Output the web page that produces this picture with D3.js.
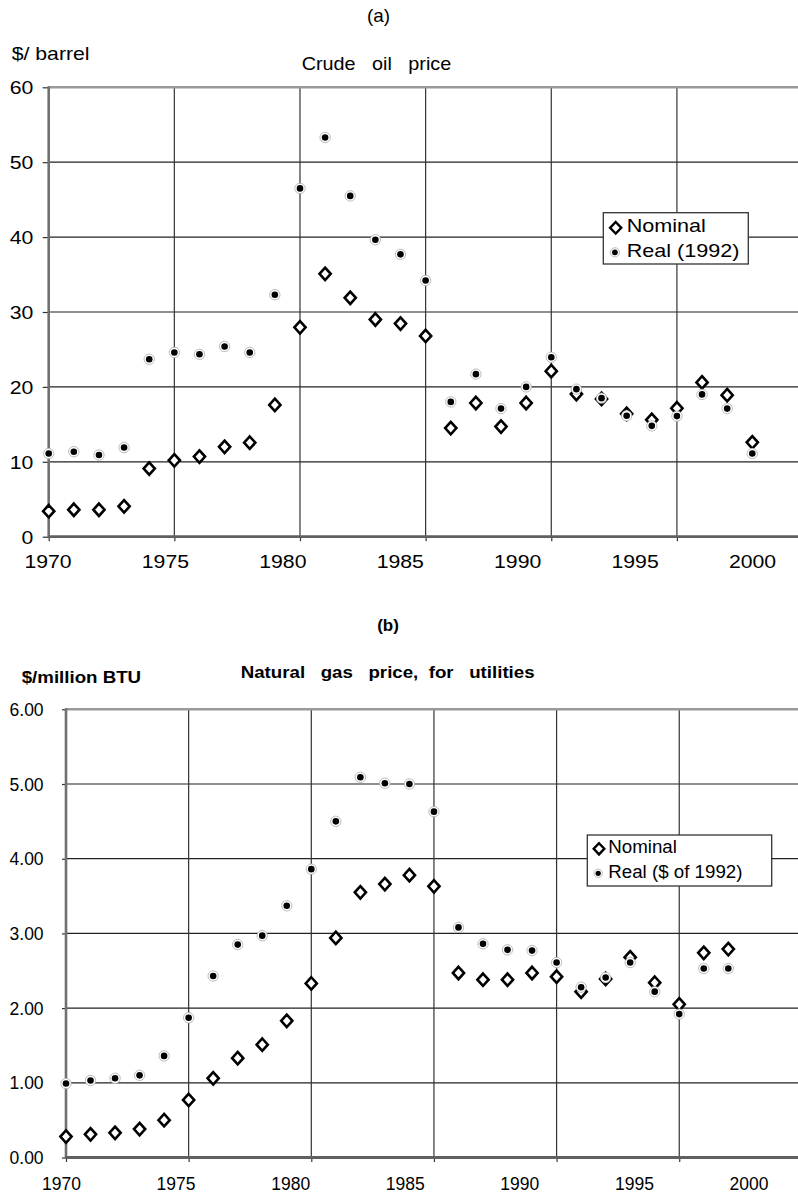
<!DOCTYPE html>
<html>
<head>
<meta charset="utf-8">
<script src="https://cdn.jsdelivr.net/npm/d3@7"></script>
<style>
  body { margin: 0; background: #fff; }
  text { font-family: "Liberation Sans", Arial, Helvetica, sans-serif; white-space: pre; fill: #000; }
</style>
</head>
<body>
<svg id="chart" width="798" height="1194"></svg>
<script>
// ---- Crude oil price ($/barrel) ----
const oilYears = [1970, 1971, 1972, 1973, 1974, 1975, 1976, 1977, 1978, 1979,
                  1980, 1981, 1982, 1983, 1984, 1985, 1986, 1987, 1988, 1989,
                  1990, 1991, 1992, 1993, 1994, 1995, 1996, 1997, 1998];
const oilNominal = [3.4, 3.6, 3.6, 4.05, 9.1, 10.2, 10.7, 12.0, 12.55, 17.6,
                    27.95, 35.1, 31.9, 29.0, 28.45, 26.8, 14.5, 17.85, 14.7, 17.85,
                    22.1, 19.05, 18.4, 16.4, 15.6, 17.15, 20.6, 18.9, 12.6];
const oilReal = [11.1, 11.35, 10.9, 11.9, 23.7, 24.6, 24.35, 25.4, 24.6, 32.3,
                 46.5, 53.3, 45.5, 39.65, 37.7, 34.2, 18.0, 21.7, 17.1, 20.0,
                 23.95, 19.7, 18.5, 16.15, 14.8, 16.1, 19.0, 17.1, 11.1];
const oilYTicks = [0, 10, 20, 30, 40, 50, 60];

// ---- Natural gas price for utilities ($/million BTU) ----
const gasYears = [1970, 1971, 1972, 1973, 1974, 1975, 1976, 1977, 1978, 1979,
                  1980, 1981, 1982, 1983, 1984, 1985, 1986, 1987, 1988, 1989,
                  1990, 1991, 1992, 1993, 1994, 1995, 1996, 1997];
const gasNominal = [0.28, 0.31, 0.33, 0.38, 0.50, 0.77, 1.06, 1.33, 1.51, 1.83,
                    2.33, 2.94, 3.55, 3.66, 3.78, 3.63, 2.47, 2.38, 2.38, 2.47,
                    2.42, 2.22, 2.39, 2.68, 2.34, 2.05, 2.74, 2.79];
const gasReal = [0.99, 1.03, 1.06, 1.10, 1.36, 1.87, 2.43, 2.85, 2.97, 3.37,
                 3.86, 4.50, 5.09, 5.01, 5.00, 4.63, 3.08, 2.86, 2.78, 2.77,
                 2.61, 2.28, 2.41, 2.61, 2.22, 1.92, 2.53, 2.53];
const gasYTicks = [0, 1, 2, 3, 4, 5, 6];

// shared axis annotations
const gridYears = [1970, 1975, 1980, 1985, 1990, 1995];
const yearTickLabels = [1970, 1975, 1980, 1985, 1990, 1995, 2000];

const W = 798;
const svg = d3.select("#chart");
svg.append("rect").attr("width", W).attr("height", 1194).attr("fill", "#fff");

const diamondPath = s => `M0,${-s.h} L${s.w},0 L0,${s.h} L${-s.w},0 Z`;

// text with horizontal stretch
function label(g, x, y, str, o) {
  return g.append("text")
    .attr("transform", `translate(${x},${y}) scale(${o.sx || 1},1)`)
    .attr("text-anchor", o.anchor || "start")
    .attr("font-size", o.size)
    .attr("font-weight", o.weight || "normal")
    .text(str);
}

function drawDiamond(g, cx, cy, w, h, sw) {
  g.append("path").attr("transform", `translate(${cx},${cy})`)
    .attr("d", diamondPath({ w, h }))
    .attr("fill", "#fff").attr("stroke", "#000")
    .attr("stroke-width", sw).attr("stroke-linejoin", "miter");
}
function drawDot(g, cx, cy, rr, r) {
  g.append("circle").attr("cx", cx).attr("cy", cy).attr("r", rr)
    .attr("fill", "#fff").attr("stroke", "#aaa").attr("stroke-width", 0.8);
  g.append("circle").attr("cx", cx).attr("cy", cy).attr("r", r).attr("fill", "#000");
}

function panel(cfg) {
  const g = svg.append("g");
  const x = d3.scaleLinear().domain(d3.extent(cfg.years)).range(cfg.xRange);
  const xLab = d3.scaleLinear().domain([1970, 2000]).range(cfg.labRange);
  const y = d3.scaleLinear().domain([0, d3.max(cfg.yTicks)]).range(cfg.yRange);
  const left = cfg.xRange[0];
  const [bottom, top] = cfg.yRange;

  // horizontal grid
  g.append("g").selectAll("line")
    .data(cfg.yTicks.filter(v => v > 0 && v < d3.max(cfg.yTicks)))
    .join("line")
    .attr("x1", left).attr("x2", W)
    .attr("y1", d => y(d)).attr("y2", d => y(d))
    .attr("stroke", "#222").attr("stroke-width", 1.2);

  // vertical grid
  g.append("g").selectAll("line")
    .data(gridYears.slice(1))
    .join("line")
    .attr("x1", d => x(d)).attr("x2", d => x(d))
    .attr("y1", top).attr("y2", bottom)
    .attr("stroke", "#333").attr("stroke-width", 1.2);

  // plot-area top border
  g.append("line").attr("x1", left).attr("x2", W)
    .attr("y1", top).attr("y2", top)
    .attr("stroke", "#999").attr("stroke-width", 2.6);

  // y axis
  const ya = g.append("g").attr("transform", `translate(${left},0)`)
    .call(d3.axisLeft(y).tickValues(cfg.yTicks).tickSize(cfg.yTick).tickSizeOuter(0)
      .tickFormat(cfg.yFormat));
  ya.select(".domain").remove();
  ya.selectAll(".tick line").attr("stroke", "#333").attr("stroke-width", 1.2);
  ya.selectAll(".tick text")
    .attr("x", null).attr("dy", "0.35em")
    .attr("font-size", cfg.tickSize).attr("font-family", null)
    .attr("transform", `translate(${-cfg.yLabGap},0) scale(${cfg.tickSx},1)`);

  // x axis tick marks at the grid years
  const xa = g.append("g").attr("transform", `translate(0,${bottom})`)
    .call(d3.axisBottom(x).tickValues(gridYears).tickSize(cfg.xTick).tickSizeOuter(0).tickFormat(""));
  xa.select(".domain").remove();
  xa.selectAll(".tick line").attr("stroke", "#333").attr("stroke-width", 1.2);

  // year labels
  const xl = g.append("g").attr("transform", `translate(0,${bottom})`)
    .call(d3.axisBottom(xLab).tickValues(yearTickLabels).tickSize(0).tickFormat(d3.format("d")));
  xl.select(".domain").remove();
  xl.selectAll(".tick text")
    .attr("y", null).attr("dy", null)
    .attr("font-size", cfg.tickSize).attr("font-family", null)
    .attr("transform", `translate(0,${cfg.xLabBase}) scale(${cfg.tickSx},1)`);

  // axis lines
  g.append("line").attr("x1", left).attr("x2", left).attr("y1", top - 1).attr("y2", bottom)
    .attr("stroke", "#707070").attr("stroke-width", 2.6);
  g.append("line").attr("x1", left - 1).attr("x2", W).attr("y1", bottom).attr("y2", bottom)
    .attr("stroke", "#606060").attr("stroke-width", 2.8);

  // nominal series (diamonds)
  const gn = g.append("g");
  cfg.years.forEach((yr, i) => drawDiamond(gn, x(yr), y(cfg.nominal[i]), 5.6, 6.2, 2.6));
  // real series (dots)
  const gr = g.append("g");
  cfg.years.forEach((yr, i) => drawDot(gr, x(yr), y(cfg.real[i]), 5.2, 3.3));

  // legend
  const L = cfg.legend;
  const lg = g.append("g");
  lg.append("rect").attr("x", L.x).attr("y", L.y).attr("width", L.w).attr("height", L.h)
    .attr("fill", "#fff").attr("stroke", "#333").attr("stroke-width", 1.3);
  drawDiamond(lg, L.x + L.mx, L.y + L.r1 - 4.5, L.dw, L.dh, 2.4);
  drawDot(lg, L.x + L.mx - 0.8, L.y + L.r2 - 5, L.ring, L.dot);
  label(lg, L.x + L.tx, L.y + L.r1, "Nominal", { size: L.size, sx: L.sx });
  label(lg, L.x + L.tx, L.y + L.r2, cfg.realName, { size: L.size, sx: L.sx });
  return g;
}

// ---- panel (a) ----
const ga = panel({
  years: oilYears, nominal: oilNominal, real: oilReal, yTicks: oilYTicks,
  xRange: [48.7, 752.3], labRange: [47.5, 752], yRange: [536.7, 87.3],
  yFormat: d3.format("d"), yTick: 6, xTick: 4.5, yLabGap: 15.4, xLabBase: 31.6,
  tickSize: 18, tickSx: 1.18,
  realName: "Real (1992)",
  legend: { x: 603.3, y: 212.7, w: 145, h: 51.3, mx: 12.4, tx: 23.4, r1: 19.6, r2: 44.6,
            dw: 5.6, dh: 5.8, ring: 4.6, dot: 2.9, size: 18, sx: 1.2 }
});
label(ga, 378.5, 22, "(a)", { size: 18, sx: 1.05, anchor: "middle" });
label(ga, 11.7, 60, "$/ barrel", { size: 18, sx: 1.18 });
label(ga, 301.7, 70, "Crude   oil   price", { size: 18, sx: 1.1 });

// ---- panel (b) ----
const gb = panel({
  years: gasYears, nominal: gasNominal, real: gasReal, yTicks: gasYTicks,
  xRange: [66, 728.3], labRange: [61, 748.5], yRange: [1157.5, 709.3],
  yFormat: d3.format(".2f"), yTick: 4, xTick: 4.5, yLabGap: 22.4, xLabBase: 32.5,
  tickSize: 17.5, tickSx: 1.0,
  realName: "Real ($ of 1992)",
  legend: { x: 587.3, y: 835, w: 184.4, h: 51, mx: 11.7, tx: 21, r1: 18.3, r2: 43.3,
            dw: 5.3, dh: 5.6, ring: 4.2, dot: 2.6, size: 17.5, sx: 1.07 }
});
label(gb, 388, 631, "(b)", { size: 17, weight: "bold", anchor: "middle" });
label(gb, 21.7, 683.3, "$/million BTU", { size: 17, weight: "bold", sx: 1.1 });
label(gb, 240.7, 677.7, "Natural   gas   price,  for   utilities", { size: 17, weight: "bold", sx: 1.1 });
</script>
</body>
</html>
